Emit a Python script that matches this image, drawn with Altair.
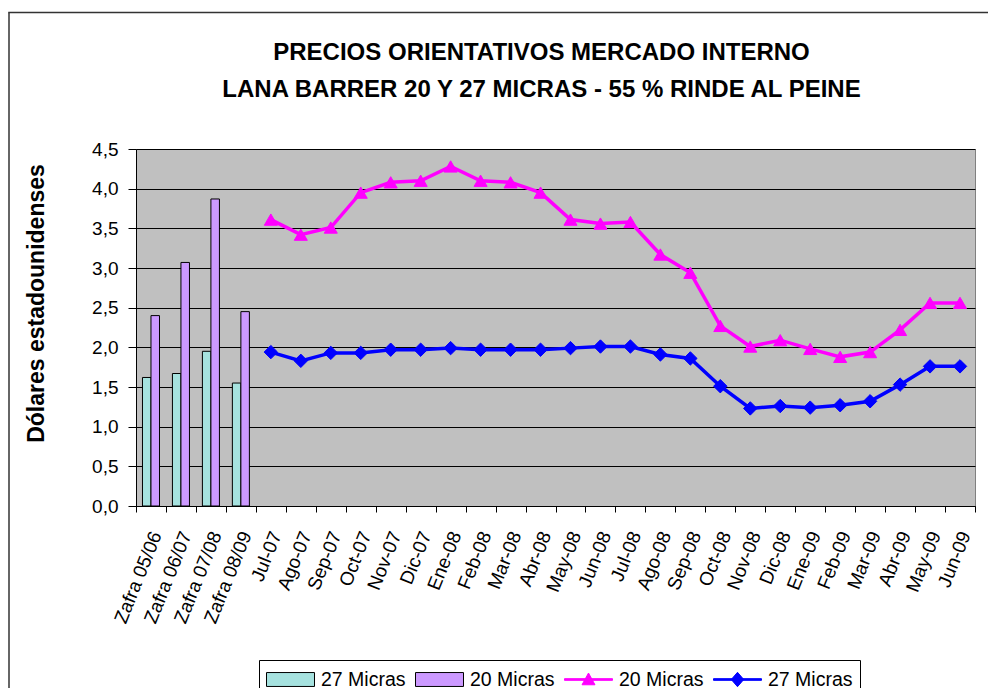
import altair as alt
import pandas as pd

# ---------------- data ----------------
CATS = ["Zafra 05/06", "Zafra 06/07", "Zafra 07/08", "Zafra 08/09",
        "Jul-07", "Ago-07", "Sep-07", "Oct-07", "Nov-07", "Dic-07",
        "Ene-08", "Feb-08", "Mar-08", "Abr-08", "May-08", "Jun-08",
        "Jul-08", "Ago-08", "Sep-08", "Oct-08", "Nov-08", "Dic-08",
        "Ene-09", "Feb-09", "Mar-09", "Abr-09", "May-09", "Jun-09"]
ZAFRAS = ["Zafra 05/06", "Zafra 06/07", "Zafra 07/08", "Zafra 08/09"]
MONTHS = ["Jul-07", "Ago-07", "Sep-07", "Oct-07", "Nov-07", "Dic-07",
          "Ene-08", "Feb-08", "Mar-08", "Abr-08", "May-08", "Jun-08",
          "Jul-08", "Ago-08", "Sep-08", "Oct-08", "Nov-08", "Dic-08",
          "Ene-09", "Feb-09", "Mar-09", "Abr-09", "May-09", "Jun-09"]

BAR_27 = [1.62, 1.67, 1.95, 1.55]
BAR_20 = [2.40, 3.07, 3.87, 2.45]

LINE_20 = [3.61, 3.42, 3.51, 3.95, 4.08, 4.10, 4.28, 4.10, 4.08, 3.95, 3.61, 3.56,
           3.58, 3.17, 2.94, 2.27, 2.01, 2.09, 1.98, 1.88, 1.94, 2.22, 2.56, 2.56]
LINE_27 = [1.94, 1.83, 1.93, 1.93, 1.97, 1.97, 1.99, 1.97, 1.97, 1.97, 1.99, 2.01,
           2.01, 1.91, 1.86, 1.51, 1.23, 1.26, 1.24, 1.27, 1.32, 1.53, 1.76, 1.76]

SERIES = ["27 Micras|barra", "20 Micras|barra", "20 Micras|linea", "27 Micras|linea"]
FILLS = ["#A6E2DF", "#CC99FF", "#FF00FF", "#0000FF"]
STROKES = ["#000000", "#000000", "#FF00FF", "#0000FF"]
# legend glyphs (unit = 12 px, glyph spans x 0..48 px of each entry)
LEGEND_SHAPES = [
    "M-1,-0.58H3V0.58H-1Z",
    "M-1,-0.58H3V0.58H-1Z",
    "M-1,-0.07H3V0.07H-1Z M1,-0.54L1.54,0.44H0.46Z",
    "M-1,-0.07H3V0.07H-1Z M1,-0.6L1.52,0L1,0.6L0.48,0Z",
]
Y_TICKS = [0.0, 0.5, 1.0, 1.5, 2.0, 2.5, 3.0, 3.5, 4.0, 4.5]

TITLE = ["PRECIOS ORIENTATIVOS MERCADO INTERNO",
         "LANA BARRER 20 Y 27 MICRAS - 55 % RINDE AL PEINE"]
Y_TITLE = "Dólares estadounidenses"

bars_df = pd.DataFrame({
    "cat": ZAFRAS + ZAFRAS,
    "serie": [SERIES[0]] * len(ZAFRAS) + [SERIES[1]] * len(ZAFRAS),
    "valor": BAR_27 + BAR_20,
})
lines_df = pd.DataFrame({
    "cat": MONTHS + MONTHS,
    "serie": [SERIES[2]] * len(MONTHS) + [SERIES[3]] * len(MONTHS),
    "valor": LINE_20 + LINE_27,
})
legend_df = pd.DataFrame({"cat": [CATS[0]] * 4, "serie": SERIES, "valor": [None] * 4})

# ---------------- layout ----------------
W, H = 839, 357
PAD = {"left": 128, "top": 141, "right": 13, "bottom": 182}
FONT = "Liberation Sans"

x_scale = alt.Scale(type="band", domain=CATS, paddingInner=0, paddingOuter=0)
y_scale = alt.Scale(domain=[0, 4.5], nice=False, zero=True)
fill_scale = alt.Scale(domain=SERIES, range=FILLS)
stroke_scale = alt.Scale(domain=SERIES, range=STROKES)
shape_scale = alt.Scale(domain=SERIES, range=LEGEND_SHAPES)

x_axis = alt.Axis(title=None, labelAngle=292, labelFontSize=19, labelFont=FONT,
                  labelColor="black", tickBand="extent", tickSize=6, tickColor="black",
                  domainColor="black", grid=False, labelPadding=20, labelOffset=5,
                  labelOverlap=False)
y_axis = alt.Axis(values=Y_TICKS,
                  labelExpr="replace(format(datum.value, '.1f'), '.', ',')",
                  title=Y_TITLE, titleFont=FONT, titleFontSize=23, titleFontWeight="bold",
                  titleColor="black", titleX=-93, titleY=154, titleAngle=270,
                  titleAlign="center", titleBaseline="alphabetic",
                  grid=True, gridColor="black", gridWidth=1, gridOpacity=1,
                  tickSize=8, tickColor="black", domainColor="black",
                  labelPadding=10, labelFontSize=19, labelFont=FONT, labelColor="black")

X = alt.X("cat:N", sort=CATS, scale=x_scale, axis=x_axis)
Y = alt.Y("valor:Q", scale=y_scale, axis=y_axis)

LEG = alt.Legend(title=None, orient="none", legendX=123, legendY=511,
                 direction="horizontal", columns=4,
                 labelExpr="split(datum.label, '|')[0]",
                 symbolSize=576, symbolStrokeWidth=1,
                 labelFontSize=19.5, labelFont=FONT, labelColor="black",
                 strokeColor="black", fillColor="white", padding=7,
                 labelOffset=30, columnPadding=7, labelLimit=0)

# legend-only layer (no visible marks: values are null) -- first, so its legend wins
legend_layer = alt.Chart(legend_df).mark_point(filled=True, opacity=1).encode(
    x=X, y=Y,
    fill=alt.Fill("serie:N", scale=fill_scale, legend=LEG),
    stroke=alt.Stroke("serie:N", scale=stroke_scale, legend=LEG),
    shape=alt.Shape("serie:N", scale=shape_scale, legend=LEG),
)

# outer chart frame (left and top edges; the rest lies beyond the window)
frame_left = alt.Chart(pd.DataFrame({"k": [0]})).mark_rule(
    stroke="#333333", strokeWidth=1.5
).encode(x=alt.value(-127), y=alt.value(-136.5), y2=alt.value(H + PAD["bottom"]))
frame_top = alt.Chart(pd.DataFrame({"k": [0]})).mark_rule(
    stroke="#333333", strokeWidth=1.5
).encode(x=alt.value(-127.75), x2=alt.value(W + PAD["right"]), y=alt.value(-136.5))

bars = alt.Chart(bars_df).mark_bar(strokeWidth=1).encode(
    x=X,
    xOffset=alt.XOffset("serie:N", sort=SERIES[:2],
                        scale=alt.Scale(domain=SERIES[:2], paddingInner=0, paddingOuter=0.76)),
    y=Y,
    fill=alt.Fill("serie:N", scale=fill_scale, legend=None),
    stroke=alt.Stroke("serie:N", scale=stroke_scale, legend=None),
)

lines = alt.Chart(lines_df).mark_line(strokeWidth=3.5).encode(
    x=X, y=Y,
    stroke=alt.Stroke("serie:N", scale=stroke_scale, legend=None),
)

pts20 = alt.Chart(lines_df).transform_filter(
    alt.datum.serie == SERIES[2]
).mark_point(filled=True, shape="triangle-up", size=170, strokeWidth=1, opacity=1).encode(
    x=X, y=Y,
    fill=alt.Fill("serie:N", scale=fill_scale, legend=None),
    stroke=alt.Stroke("serie:N", scale=stroke_scale, legend=None),
)

pts27 = alt.Chart(lines_df).transform_filter(
    alt.datum.serie == SERIES[3]
).mark_point(filled=True, shape="diamond", size=180, strokeWidth=1, opacity=1).encode(
    x=X, y=Y,
    fill=alt.Fill("serie:N", scale=fill_scale, legend=None),
    stroke=alt.Stroke("serie:N", scale=stroke_scale, legend=None),
)

chart = alt.layer(legend_layer, frame_left, frame_top, bars, lines, pts20, pts27).properties(
    width=W, height=H,
    title=alt.Title(TITLE, fontSize=24, font=FONT, fontWeight="bold", color="black",
                    anchor="middle", frame="group", dx=-14, dy=137, offset=47, lineHeight=37),
    autosize=alt.AutoSizeParams(type="none"),
    padding=PAD,
    background="white",
).configure_view(fill="#C0C0C0", stroke="#808080", strokeWidth=1)

chart.save("out.html", embed_options={"renderer": "svg", "actions": False})
